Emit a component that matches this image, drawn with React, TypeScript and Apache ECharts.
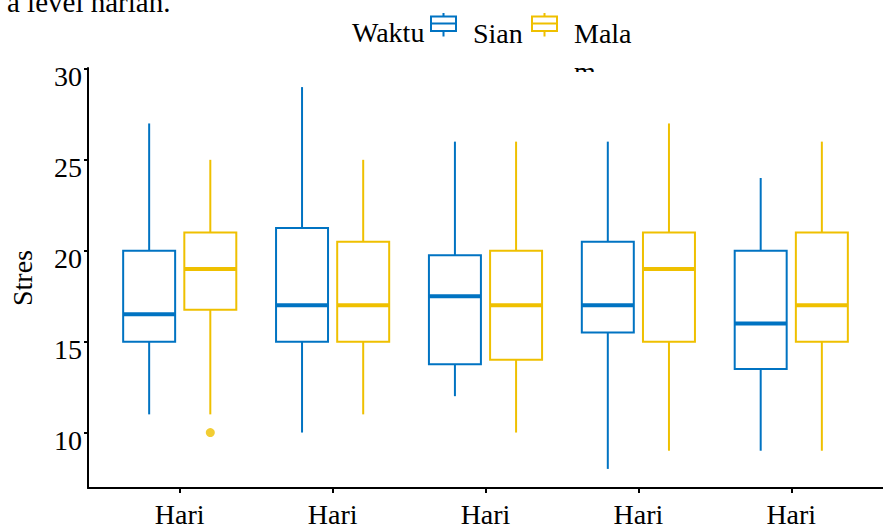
import React, { useEffect, useRef } from 'react';
import * as echarts from 'echarts';

const categories = ['Hari', 'Hari', 'Hari', 'Hari', 'Hari'];
const groupNames = ['Sian', 'Malam'];
// each row: [lower whisker, Q1, median, Q3, upper whisker]
const sianStats = [
  [11, 15, 16.5, 20, 27],
  [10, 15, 17, 21.25, 29],
  [12, 13.75, 17.5, 19.75, 26],
  [8, 15.5, 17, 20.5, 26],
  [9, 13.5, 16, 20, 24],
];
const malamStats = [
  [11, 16.75, 19, 21, 25],
  [11, 15, 17, 20.5, 25],
  [10, 14, 17, 20, 26],
  [9, 15, 19, 21, 27],
  [9, 15, 17, 21, 26],
];
// [category index, value]
const malamOutliers = [[0, 10]];
const yTicks = [10, 15, 20, 25, 30];
const titleText = 'a level harian.';
const legendTitle = 'Waktu';
const yName = 'Stres';

const BLUE = '#0073C2';
const YELLOW = '#EFC000';
const FONT = 'Liberation Serif, Times New Roman, serif';
const DODGE = 0.2;
const BOX_W = 0.34;

// visible glyph 27x23.5 in the top-left; trailing moveTo sets the item box
const iconGlyph = 'M13.5,0V3.5M1,3.5H26V18H1ZM1,10.5H26M13.5,18V23.5';
const iconSian = `path://${iconGlyph}M0,0M38,41`;
const iconMalam = `path://${iconGlyph}M0,0M38,79`;

function makeRender(color: string) {
  return (params: any, api: any) => {
    const x = api.value(0);
    const lo = api.coord([x, api.value(1)]);
    const q1 = api.coord([x, api.value(2)]);
    const md = api.coord([x, api.value(3)]);
    const q3 = api.coord([x, api.value(4)]);
    const hi = api.coord([x, api.value(5)]);
    const w = api.size([BOX_W, 0])[0];
    const cx = lo[0];
    return {
      type: 'group',
      children: [
        { type: 'line', shape: { x1: cx, y1: hi[1], x2: cx, y2: q3[1] }, style: { stroke: color, lineWidth: 2 } },
        { type: 'line', shape: { x1: cx, y1: q1[1], x2: cx, y2: lo[1] }, style: { stroke: color, lineWidth: 2 } },
        { type: 'rect', shape: { x: cx - w / 2, y: q3[1], width: w, height: q1[1] - q3[1] }, style: { fill: '#fff', stroke: color, lineWidth: 2 } },
        { type: 'line', shape: { x1: cx - w / 2, y1: md[1], x2: cx + w / 2, y2: md[1] }, style: { stroke: color, lineWidth: 4 } },
      ],
    };
  };
}

export default function App() {
  const ref = useRef<HTMLDivElement>(null);
  useEffect(() => {
    document.body.style.margin = '0';
    const chart = echarts.init(ref.current!, null, { renderer: 'svg' });
    const sianData = sianStats.map((s, i) => [i + 1 - DODGE, ...s]);
    const malamData = malamStats.map((s, i) => [i + 1 + DODGE, ...s]);
    const outData = malamOutliers.map(([i, v]) => [i + 1 + DODGE, v]);
    const textBase = { fontFamily: FONT, fontSize: 28, color: '#000' };
    chart.setOption({
      animation: false,
      backgroundColor: '#fff',
      grid: { left: 86, top: 68, width: 811.2, height: 420.5 },
      xAxis: {
        type: 'value',
        min: 0.4,
        max: 5.6,
        axisLine: { show: true, onZero: false, lineStyle: { color: '#000', width: 2 } },
        axisTick: { show: true, customValues: [1, 2, 3, 4, 5], length: 5, lineStyle: { color: '#000', width: 2 } },
        axisLabel: {
          customValues: [1, 2, 3, 4, 5],
          formatter: (v: number) => categories[Math.round(v) - 1] ?? '',
          ...textBase,
          margin: 12,
        },
        splitLine: { show: false },
      },
      yAxis: {
        type: 'value',
        min: 6.95,
        max: 30.05,
        name: yName,
        nameLocation: 'middle',
        nameGap: 52,
        nameTextStyle: { ...textBase },
        axisLine: { show: true, lineStyle: { color: '#000', width: 2 } },
        axisTick: { show: true, customValues: yTicks, length: 4, lineStyle: { color: '#000', width: 2 } },
        axisLabel: {
          customValues: yTicks,
          ...textBase,
          margin: 6,
          verticalAlign: 'top',
          lineHeight: 16,
        },
        splitLine: { show: false },
      },
      legend: [
        {
          left: 429,
          top: 12,
          padding: 0,
          itemWidth: 38,
          itemHeight: 41,
          selectedMode: false,
          textStyle: { ...textBase },
          data: [
            { name: groupNames[0], icon: iconSian, itemStyle: { color: 'rgba(0,0,0,0)', borderColor: BLUE, borderWidth: 2 } },
          ],
        },
        {
          left: 530,
          top: 12,
          padding: 0,
          itemWidth: 38,
          itemHeight: 79,
          selectedMode: false,
          textStyle: { ...textBase, width: 62, overflow: 'break', lineHeight: 38 },
          data: [
            { name: groupNames[1], icon: iconMalam, itemStyle: { color: 'rgba(0,0,0,0)', borderColor: YELLOW, borderWidth: 2 } },
          ],
        },
      ],
      graphic: [
        { type: 'text', left: 7, top: -13, style: { text: titleText, font: `29px ${FONT}`, fill: '#000' } },
        { type: 'text', x: 352, y: 32.5, style: { text: legendTitle, font: `28px ${FONT}`, fill: '#000', verticalAlign: 'middle' } },
        { type: 'rect', x: 560, y: 72, shape: { width: 90, height: 30 }, style: { fill: '#fff' }, z: 100 },
      ],
      series: [
        {
          type: 'custom',
          name: groupNames[0],
          data: sianData,
          encode: { x: 0, y: [1, 2, 3, 4, 5] },
          renderItem: makeRender(BLUE),
          itemStyle: { color: BLUE },
        },
        {
          type: 'custom',
          name: groupNames[1],
          data: malamData,
          encode: { x: 0, y: [1, 2, 3, 4, 5] },
          renderItem: makeRender(YELLOW),
          itemStyle: { color: YELLOW },
        },
        {
          type: 'scatter',
          name: groupNames[1],
          data: outData,
          symbol: 'circle',
          symbolSize: 9,
          itemStyle: { color: YELLOW },
        },
      ],
    });
    return () => chart.dispose();
  }, []);
  return <div ref={ref} style={{ position: 'fixed', left: 0, top: 0, width: 883, height: 528 }} />;
}
